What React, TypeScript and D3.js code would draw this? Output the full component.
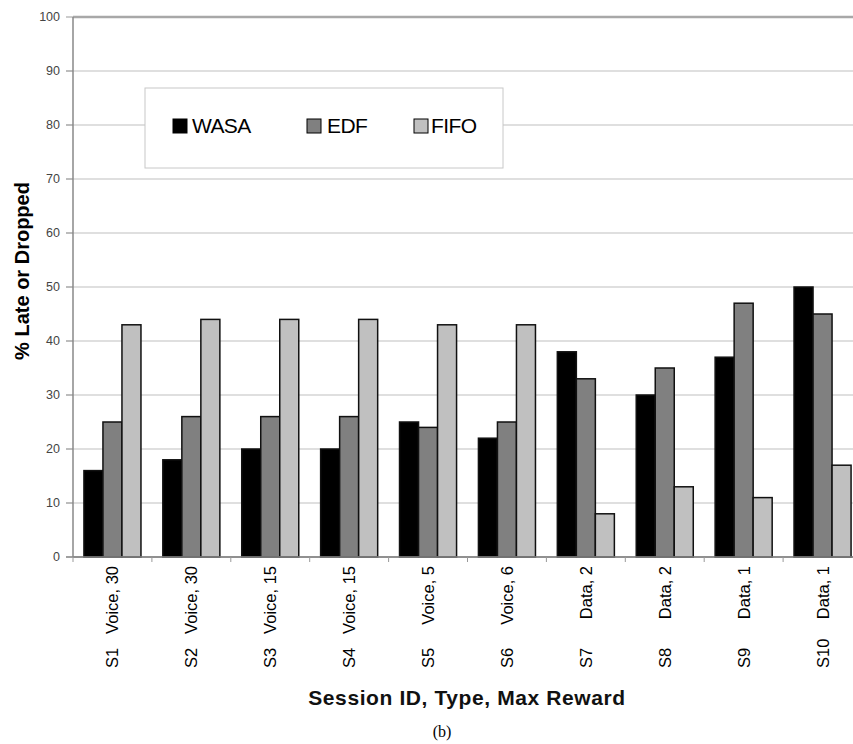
import React from "react";
import * as d3 from "d3";

// session labels, split in two parts as drawn under the axis
const sessionIds = ["S1", "S2", "S3", "S4", "S5", "S6", "S7", "S8", "S9", "S10"];
const sessionTypes = ["Voice, 30", "Voice, 30", "Voice, 15", "Voice, 15", "Voice, 5", "Voice, 6", "Data, 2", "Data, 2", "Data, 1", "Data, 1"];

const seriesNames = ["WASA", "EDF", "FIFO"];
const seriesColors = ["#000000", "#808080", "#c0c0c0"];

const wasa = [16, 18, 20, 20, 25, 22, 38, 30, 37, 50];
const edf = [25, 26, 26, 26, 24, 25, 33, 35, 47, 45];
const fifo = [43, 44, 44, 44, 43, 43, 8, 13, 11, 17];

const yTicks = [0, 10, 20, 30, 40, 50, 60, 70, 80, 90, 100];

const W = 853;
const H = 744;
const left = 73;
const top = 17;
const bottom = 557;

export default function App() {
  const values = [wasa, edf, fifo];

  const y = d3.scaleLinear().domain([0, 100]).range([bottom, top]);
  const x0 = d3.scaleBand<string>().domain(sessionIds).range([left, left + 78.9 * 10]).padding(0);
  const x1 = d3
    .scaleBand<string>()
    .domain(seriesNames)
    .range([0, x0.bandwidth()])
    .paddingInner(0)
    .paddingOuter(0.575);

  const legendX = [173, 307, 414];
  const legendTextX = [192, 327, 431];

  return (
    <svg width={W} height={H} style={{ position: "absolute", left: 0, top: 0, background: "#fff" }}>
      {/* gridlines */}
      {yTicks.map((t) => (
        <line
          key={"g" + t}
          x1={t === 100 ? left : 66}
          x2={W}
          y1={y(t)}
          y2={y(t)}
          stroke={t === 100 ? "#a8a8a8" : t === 0 ? "#888" : "#d4d4d4"}
          strokeWidth={t === 100 ? 2.5 : 1.5}
        />
      ))}
      {yTicks.map((t) => (
        <line key={"yt" + t} x1={66} x2={left} y1={y(t)} y2={y(t)} stroke="#999" strokeWidth={1} />
      ))}
      {/* y axis */}
      <line x1={left} x2={left} y1={top} y2={bottom} stroke="#888" strokeWidth={1.5} />
      {yTicks.map((t) => (
        <text
          key={"yl" + t}
          x={60}
          y={y(t)}
          textAnchor="end"
          dominantBaseline="central"
          fontFamily="Liberation Sans, Arial, sans-serif"
          fontSize={12.5}
          fill="#444"
        >
          {t}
        </text>
      ))}

      {/* legend */}
      <rect x={145} y={88} width={358} height={80} fill="#fff" stroke="#c8c8c8" strokeWidth={1} />
      {seriesNames.map((s, i) => (
        <g key={"lg" + s}>
          <rect x={legendX[i]} y={119} width={14} height={14} fill={seriesColors[i]} stroke="#000" strokeWidth={1} />
          <text
            x={legendTextX[i]}
            y={133}
            fontFamily="Liberation Sans, Arial, sans-serif"
            fontSize={21}
            letterSpacing={-0.6}
            fill="#000"
          >
            {s}
          </text>
        </g>
      ))}

      {/* bars */}
      {sessionIds.map((sid, ci) => (
        <g key={"b" + sid} transform={`translate(${x0(sid)},0)`}>
          {seriesNames.map((s, si) => {
            const v = values[si][ci];
            return (
              <rect
                key={s}
                x={x1(s)}
                y={y(v)}
                width={x1.bandwidth()}
                height={y(0) - y(v)}
                fill={seriesColors[si]}
                stroke="#111"
                strokeWidth={1.5}
              />
            );
          })}
        </g>
      ))}

      {/* x axis */}
      <line x1={left} x2={W} y1={bottom} y2={bottom} stroke="#888" strokeWidth={1.5} />
      {sessionIds.map((sid) => (
        <line key={"xt" + sid} x1={x0(sid)} x2={x0(sid)} y1={bottom} y2={bottom + 5} stroke="#999" strokeWidth={1} />
      ))}
      {sessionIds.map((sid, i) => {
        const cx = (x0(sid) as number) + x0.bandwidth() / 2;
        return (
          <g key={"xl" + sid} fontFamily="Liberation Sans, Arial, sans-serif" fontSize={16.5} fill="#000">
            <text transform={`translate(${cx},668) rotate(-90)`} textAnchor="start" dominantBaseline="central">
              {sid}
            </text>
            <text transform={`translate(${cx},566) rotate(-90)`} textAnchor="end" dominantBaseline="central">
              {sessionTypes[i]}
            </text>
          </g>
        );
      })}

      {/* axis titles */}
      <text
        transform="translate(29,271) rotate(-90)"
        textAnchor="middle"
        fontFamily="Liberation Sans, Arial, sans-serif"
        fontWeight="bold"
        fontSize={20}
        fill="#000"
      >
        % Late or Dropped
      </text>
      <text
        x={467}
        y={705}
        textAnchor="middle"
        fontFamily="Liberation Sans, Arial, sans-serif"
        fontWeight="bold"
        fontSize={21}
        letterSpacing={0.6}
        fill="#111"
      >
        Session ID, Type, Max Reward
      </text>
      <text x={442} y={737} textAnchor="middle" fontFamily="Liberation Serif, Times New Roman, serif" fontSize={16} fill="#000">
        (b)
      </text>
    </svg>
  );
}
